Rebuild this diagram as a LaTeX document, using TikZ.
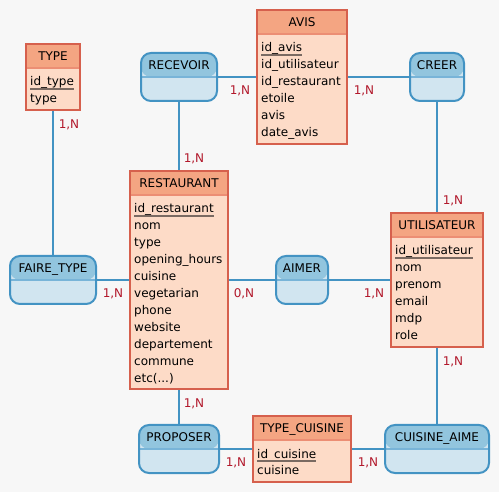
\documentclass[tikz,border=0pt]{standalone}
\usepackage{fontspec}
\setmainfont{DejaVu Sans}
\definecolor{bg}{HTML}{F7F7F7}
\definecolor{ehead}{HTML}{F4A582}
\definecolor{ebody}{HTML}{FDDBC7}
\definecolor{ebord}{HTML}{D6604D}
\definecolor{ediv}{HTML}{EC8E74}
\definecolor{ahead}{HTML}{92C5DE}
\definecolor{abody}{HTML}{D1E5F0}
\definecolor{abord}{HTML}{4393C3}
\definecolor{adiv}{HTML}{78B4D8}
\definecolor{cardc}{HTML}{B2182B}
\definecolor{ulc}{HTML}{7A6A62}
\pgfdeclarelayer{bgl}
\pgfdeclarelayer{lnk}
\pgfsetlayers{bgl,lnk,main}
\tikzset{
  ebox/.style={rectangle, draw=ebord, line width=2pt, fill=ebody, inner sep=0pt,
    path picture={\fill[ehead] (path picture bounding box.north west) rectangle ([yshift=-24pt]path picture bounding box.north east);
      \draw[ediv, line width=1.2pt] ([yshift=-24pt]path picture bounding box.north west) -- ([yshift=-24pt]path picture bounding box.north east);}},
  abox/.style={rectangle, rounded corners=10pt, draw=abord, line width=2pt, fill=abody, inner sep=0pt,
    path picture={\fill[ahead] (path picture bounding box.north west) rectangle ([yshift=-24pt]path picture bounding box.north east);
      \draw[adiv, line width=1.2pt] ([yshift=-24pt]path picture bounding box.north west) -- ([yshift=-24pt]path picture bounding box.north east);}},
  ttl/.style={inner sep=0pt, anchor=base, text=black},
  attr/.style={inner sep=0pt, anchor=base west, text=black},
  ul/.style={draw=ulc, line width=1.6pt},
  link/.style={draw=abord, line width=2pt},
  card/.style={inner sep=0pt, anchor=base, text=cardc}
}
\begin{document}
\begin{tikzpicture}[x=1pt,y=-1pt,font=\fontsize{12}{14}\selectfont]
\begin{pgfonlayer}{bgl}
\fill[bg] (0,0) rectangle (499,492);
\end{pgfonlayer}
\useasboundingbox (0,0) rectangle (499,492);

% entities
\node[ebox, minimum width=54pt, minimum height=66pt] (type) at (53,77) {};
\node[ebox, minimum width=90pt, minimum height=134pt] (avis) at (302,77) {};
\node[ebox, minimum width=98pt, minimum height=218pt] (resto) at (179,280) {};
\node[ebox, minimum width=92pt, minimum height=134pt] (util) at (437,280) {};
\node[ebox, minimum width=98pt, minimum height=66pt] (tc) at (302,449) {};

% associations
\node[abox, minimum width=76pt, minimum height=48pt] (recv) at (179,77) {};
\node[abox, minimum width=54pt, minimum height=48pt] (creer) at (437,77) {};
\node[abox, minimum width=86pt, minimum height=48pt] (ft) at (53,280) {};
\node[abox, minimum width=52pt, minimum height=48pt] (aimer) at (302,280) {};
\node[abox, minimum width=80pt, minimum height=48pt] (prop) at (179,449) {};
\node[abox, minimum width=104pt, minimum height=48pt] (ca) at (437,449) {};

% titles (baseline 18 below outer top)
\node[ttl] (typeT) at ([yshift=-18pt]type.north) {TYPE};
\node[ttl] (avisT) at ([yshift=-18pt]avis.north) {AVIS};
\node[ttl] (restoT) at ([yshift=-18pt]resto.north) {RESTAURANT};
\node[ttl] (utilT) at ([yshift=-18pt]util.north) {UTILISATEUR};
\node[ttl] (tcT) at ([yshift=-18pt]tc.north) {TYPE\_CUISINE};
\node[ttl] (recvT) at ([yshift=-18pt]recv.north) {RECEVOIR};
\node[ttl] (creerT) at ([yshift=-18pt]creer.north) {CREER};
\node[ttl] (ftT) at ([yshift=-18pt]ft.north) {FAIRE\_TYPE};
\node[ttl] (aimerT) at ([yshift=-18pt]aimer.north) {AIMER};
\node[ttl] (propT) at ([yshift=-18pt]prop.north) {PROPOSER};
\node[ttl] (caT) at ([yshift=-18pt]ca.north) {CUISINE\_AIME};

% attributes TYPE (baselines)
\node[attr] (ty1) at (30,86) {id\_type};
\draw[ul] ([yshift=-2.8pt]ty1.base west) -- ([yshift=-2.8pt]ty1.base east);
\node[attr] (ty2) at (30,103) {type};

% AVIS
\node[attr] (av1) at (261,52) {id\_avis};
\draw[ul] ([yshift=-2.8pt]av1.base west) -- ([yshift=-2.8pt]av1.base east);
\node[attr] (av2) at (261,69) {id\_utilisateur};
\node[attr] (av3) at (261,86) {id\_restaurant};
\node[attr] (av4) at (261,103) {etoile};
\node[attr] (av5) at (261,120) {avis};
\node[attr] (av6) at (261,137) {date\_avis};

% RESTAURANT
\node[attr] (re1) at (134,213) {id\_restaurant};
\draw[ul] ([yshift=-2.8pt]re1.base west) -- ([yshift=-2.8pt]re1.base east);
\node[attr] (re2) at (134,230) {nom};
\node[attr] (re3) at (134,247) {type};
\node[attr] (re4) at (134,264) {opening\_hours};
\node[attr] (re5) at (134,281) {cuisine};
\node[attr] (re6) at (134,298) {vegetarian};
\node[attr] (re7) at (134,315) {phone};
\node[attr] (re8) at (134,332) {website};
\node[attr] (re9) at (134,349) {departement};
\node[attr] (re10) at (134,366) {commune};
\node[attr] (re11) at (134,383) {etc(...)};

% UTILISATEUR
\node[attr] (ut1) at (395,255) {id\_utilisateur};
\draw[ul] ([yshift=-2.8pt]ut1.base west) -- ([yshift=-2.8pt]ut1.base east);
\node[attr] (ut2) at (395,272) {nom};
\node[attr] (ut3) at (395,289) {prenom};
\node[attr] (ut4) at (395,306) {email};
\node[attr] (ut5) at (395,323) {mdp};
\node[attr] (ut6) at (395,340) {role};

% TYPE_CUISINE
\node[attr] (tc1) at (257,458) {id\_cuisine};
\draw[ul] ([yshift=-2.8pt]tc1.base west) -- ([yshift=-2.8pt]tc1.base east);
\node[attr] (tc2) at (257,475) {cuisine};

% links
\begin{pgfonlayer}{lnk}
\draw[link] (type.south) -- (ft.north);
\draw[link] (recv.south) -- (resto.north);
\draw[link] (recv.east) -- (avis.west);
\draw[link] (avis.east) -- (creer.west);
\draw[link] (creer.south) -- (util.north);
\draw[link] (ft.east) -- (resto.west);
\draw[link] (resto.east) -- (aimer.west);
\draw[link] (aimer.east) -- (util.west);
\draw[link] (resto.south) -- (prop.north);
\draw[link] (prop.east) -- (tc.west);
\draw[link] (tc.east) -- (ca.west);
\draw[link] (util.south) -- (ca.north);
\end{pgfonlayer}

% cardinalities (baselines)
\node[card] (k1) at (69,128.5) {1,N};
\node[card] (k2) at (194,162.5) {1,N};
\node[card] (k3) at (240,94.5) {1,N};
\node[card] (k4) at (364,94.5) {1,N};
\node[card] (k5) at (453,204.5) {1,N};
\node[card] (k6) at (113,297.5) {1,N};
\node[card] (k7) at (244,297.5) {0,N};
\node[card] (k8) at (374,297.5) {1,N};
\node[card] (k9) at (453,365.5) {1,N};
\node[card] (k10) at (194,407.5) {1,N};
\node[card] (k11) at (236,466.5) {1,N};
\node[card] (k12) at (368,466.5) {1,N};
\end{tikzpicture}
\end{document}
